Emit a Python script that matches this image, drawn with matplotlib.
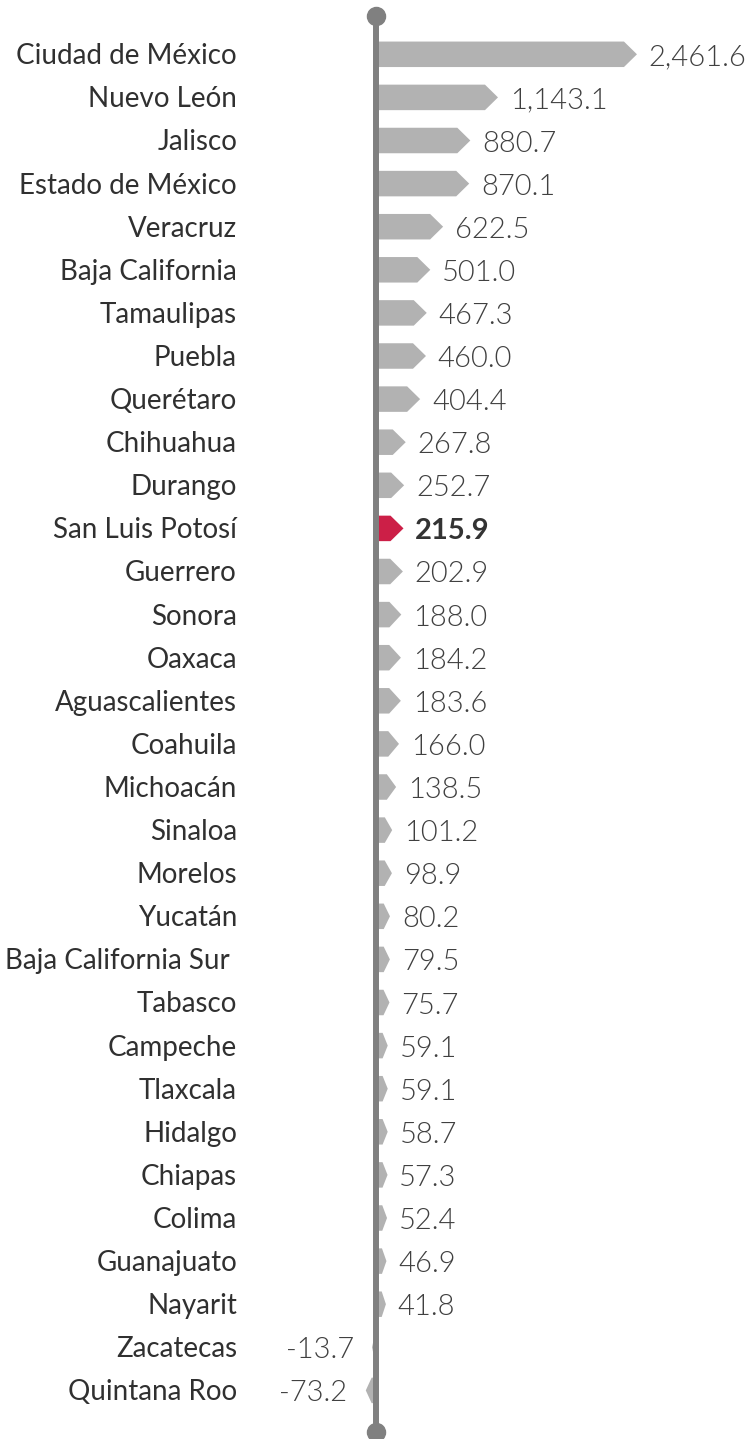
import matplotlib
matplotlib.use("Agg")
import matplotlib.pyplot as plt
from matplotlib.patches import Polygon

states = ["Ciudad de México", "Nuevo León", "Jalisco", "Estado de México", "Veracruz",
          "Baja California", "Tamaulipas", "Puebla", "Querétaro", "Chihuahua", "Durango",
          "San Luis Potosí", "Guerrero", "Sonora", "Oaxaca", "Aguascalientes", "Coahuila",
          "Michoacán", "Sinaloa", "Morelos", "Yucatán", "Baja California Sur ", "Tabasco",
          "Campeche", "Tlaxcala", "Hidalgo", "Chiapas", "Colima", "Guanajuato", "Nayarit",
          "Zacatecas", "Quintana Roo"]
values = [2461.6, 1143.1, 880.7, 870.1, 622.5, 501.0, 467.3, 460.0, 404.4, 267.8, 252.7,
          215.9, 202.9, 188.0, 184.2, 183.6, 166.0, 138.5, 101.2, 98.9, 80.2, 79.5, 75.7,
          59.1, 59.1, 58.7, 57.3, 52.4, 46.9, 41.8, -13.7, -73.2]
highlight = "San Luis Potosí"

W, H, DPI = 752, 1439, 100
fig = plt.figure(figsize=(W / DPI, H / DPI), dpi=DPI)
ax = fig.add_axes([0, 0, 1, 1])
ax.axis("off")

x0_px = 377.5
px_per_unit = 0.1054
row0_px = 54.3
row_px = 43.1
ax.set_xlim(-x0_px / px_per_unit, (W - x0_px) / px_per_unit)
ax.set_ylim((H - row0_px) / row_px, -row0_px / row_px)

fam = ["Lato", "DejaVu Sans"]
gray_bar = "#b2b2b2"
red_bar = "#cc1f47"
bar_h = 25.5 / row_px
tip_max_px = 13.0
min_shape_px = 26.0   # arrow shapes keep a minimum visible size
extra_px = 4.0
text_dy_px = 2.0

for i, (s, v) in enumerate(zip(states, values)):
    hl = (s == highlight)
    col = red_bar if hl else gray_bar
    L = abs(v) * px_per_unit
    Ltot = max(L, min(L + extra_px, min_shape_px))
    tip = min(tip_max_px, Ltot / 2)
    sgn = 1 if v >= 0 else -1
    end = sgn * Ltot / px_per_unit
    body = sgn * (Ltot - tip) / px_per_unit
    pts = [(0, i - bar_h / 2), (body, i - bar_h / 2), (end, i),
           (body, i + bar_h / 2), (0, i + bar_h / 2)]
    ax.add_patch(Polygon(pts, closed=True, facecolor=col, edgecolor="none", zorder=2))
    lab = f"{v:,.1f}"
    dy = -(text_dy_px + 1.0) * 72 / DPI
    if v >= 0:
        ax.annotate(lab, (end, i), xytext=(8.5, dy), textcoords="offset points",
                    ha="left", va="center", fontsize=21, family=fam,
                    fontweight=700 if hl else 300,
                    color="#333333" if hl else "#404040")
    else:
        ax.annotate(lab, (v, i), xytext=(-16, dy), textcoords="offset points",
                    ha="right", va="center", fontsize=21, family=fam,
                    fontweight=300, color="#404040")
    ax.text(237 / W, 1 - (row0_px + row_px * i + text_dy_px) / H, s,
            transform=fig.transFigure, ha="right", va="center", fontsize=20,
            family=fam, fontweight=400, color="#303030")

# axis line with end dots
line_x = -1.2 / px_per_unit
y_top = (16 - row0_px) / row_px
y_bot = (1432 - row0_px) / row_px
ax.plot([line_x, line_x], [y_top, y_bot], color="#808080", lw=4.3, zorder=3,
        solid_capstyle="butt")
ax.plot([line_x, line_x], [y_top, y_bot], "o", color="#808080", ms=13, zorder=4)

fig.savefig("out.png", dpi=DPI)
